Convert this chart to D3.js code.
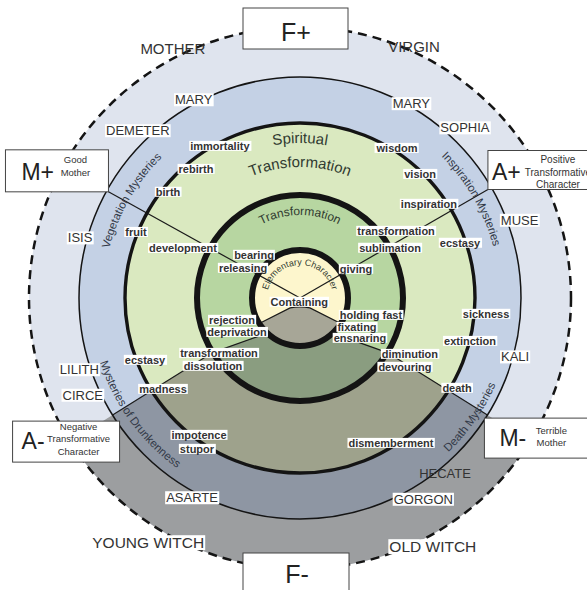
<!DOCTYPE html>
<html>
<head>
<meta charset="utf-8">
<script src="https://cdn.jsdelivr.net/npm/d3@7"></script>
<style>
  body { margin: 0; background: #fff; }
  svg { display: block; }
  text { font-family: "Liberation Sans", Arial, sans-serif; }
</style>
</head>
<body>
<svg width="587" height="590"></svg>
<script>

// rings, from the centre out, and their edges (radial units)
var rings = ["Elementary Character", "Transformation", "Spiritual Transformation", "Mysteries", "Archetypes"];
var ringEdges = [0, 48, 103, 175, 221, 271];

// the four axes (degrees clockwise from 3 o'clock)
var axes = ["M+", "A+", "A-", "M-"];
var axisAngles = [209, 330, 148, 32];

// ring titles
var titles = [["Elementary Character", 33], ["Transformation", 83], ["Spiritual", 155], ["Transformation", 131]];

// mysteries along the blue ring: text, angle, radius, direction
var mysteries = [
  ["Vegetation Mysteries", 210, 197, 1],
  ["Inspiration Mysteries", 330, 200, 1],
  ["Mysteries of Drunkenness", 144, 210, -1],
  ["Death Mysteries", 35, 214, -1]
];

// archetype names: text, angle, radius
var parents = [["MOTHER", 243, 280], ["VIRGIN", 294.4, 276]];
var goddesses = [
  ["MARY", 241.8, 225], ["MARY", 299.8, 224], ["DEMETER", 225.9, 233], ["SOPHIA", 314.1, 237],
  ["ISIS", 195.3, 228], ["MUSE", 340.5, 233], ["LILITH", 162, 232], ["CIRCE", 155.9, 238],
  ["KALI", 15.3, 223], ["ASARTE", 118.4, 227], ["HECATE", 50.5, 228], ["GORGON", 58.5, 236]
];
var witches = [["YOUNG WITCH", 121.8, 288], ["OLD WITCH", 61.9, 282]];

// functions inside the rings: text, angle, radius
var functions = [
  ["immortality", 242.2, 171.8], ["rebirth", 231.1, 165.7], ["birth", 218.8, 169.3], ["fruit", 201.9, 176.8],
  ["development", 203.1, 127.2], ["wisdom", 302.9, 178.6], ["vision", 314.1, 172.6], ["inspiration", 323.9, 159.6],
  ["transformation", 325.1, 117.1], ["sublimation", 330.9, 103], ["ecstasy", 341, 169.2], ["giving", 332.6, 63.1],
  ["bearing", 223.1, 63], ["releasing", 207.8, 64.4], ["rejection", 162.1, 71.5], ["deprivation", 151.6, 71.6],
  ["transformation", 145.8, 97.9], ["dissolution", 142, 110.4], ["ecstasy", 158.2, 166.9], ["madness", 146.4, 164.5],
  ["impotence", 126.4, 170.2], ["stupor", 124.3, 182.8], ["holding fast", 13.5, 73], ["fixating", 27, 64],
  ["ensnaring", 33.7, 72.1], ["diminution", 27, 123.4], ["devouring", 33.3, 125.6], ["death", 29.8, 181],
  ["dismemberment", 57.9, 171.2], ["sickness", 4.9, 186.7], ["extinction", 14.2, 175.4], ["Containing", 100, 4]
];

// corner boxes
var boxNames = ["F+", "F-", "M+", "A+", "A-", "M-"];
var boxNotes = [[], [], ["Good", "Mother"], ["Positive", "Transformative", "Character"],
                ["Negative", "Transformative", "Character"], ["Terrible", "Mother"]];


var svg = d3.select("svg");
var cx = 300, cy = 298;
var r = d3.scaleLinear().domain([0, 271]).range([0, 271]);
var ang = d3.scaleLinear().domain([0, 360]).range([0, 2 * Math.PI]);
var light = d3.scaleOrdinal().domain(rings).range(["#fdf6cd", "#b7d6a1", "#dae9c0", "#c4d1e5", "#dfe4ee"]);
var dark = d3.scaleOrdinal().domain(rings).range(["#a7a697", "#8a9d80", "#9ea28c", "#8e96a3", "#9c9ea0"]);

function pt(a, rr) {
  return [cx + r(rr) * Math.cos(ang(a)), cy + r(rr) * Math.sin(ang(a))];
}

var lowA = axisAngles[3], lowB = axisAngles[2];

// lower (negative) part of each ring
function darkPath(i) {
  var p = d3.path(), s;
  if (i === 0) {
    var a = pt(lowB, ringEdges[1]), b = pt(135, 14), c = pt(90, 8), e = pt(45, 14), f = pt(lowA, ringEdges[1]);
    p.moveTo(a[0], a[1]);
    p.lineTo(b[0], b[1]);
    p.quadraticCurveTo(c[0], c[1], e[0], e[1]);
    p.lineTo(f[0], f[1]);
    p.arc(cx, cy, r(ringEdges[1]), ang(lowA), ang(lowB), false);
  } else if (i === 1) {
    s = pt(lowA, ringEdges[2]);
    p.moveTo(s[0], s[1]);
    p.arc(cx, cy, r(ringEdges[2]), ang(lowA), ang(lowB), false);
    s = pt(133, ringEdges[1]);
    p.lineTo(s[0], s[1]);
    p.arc(cx, cy, r(ringEdges[1]), ang(133), ang(47), true);
  } else {
    s = pt(lowA, ringEdges[i + 1]);
    p.moveTo(s[0], s[1]);
    p.arc(cx, cy, r(ringEdges[i + 1]), ang(lowA), ang(lowB), false);
    s = pt(lowB, ringEdges[i]);
    p.lineTo(s[0], s[1]);
    p.arc(cx, cy, r(ringEdges[i]), ang(lowB), ang(lowA), true);
  }
  p.closePath();
  return p.toString();
}

var arc = d3.arc();

svg.append("g").selectAll("path").data(rings).enter().append("path")
  .attr("transform", "translate(" + cx + "," + cy + ")")
  .attr("d", function(d, i) {
    return arc({innerRadius: r(ringEdges[i]), outerRadius: r(ringEdges[i + 1]), startAngle: 0, endAngle: 2 * Math.PI});
  })
  .attr("fill", function(d) { return light(d); });

svg.append("g").selectAll("path").data(rings).enter().append("path")
  .attr("d", function(d, i) { return darkPath(i); })
  .attr("fill", function(d) { return dark(d); })
  .attr("stroke", function(d, i) { return i === 0 ? "#1a1a1a" : "none"; })
  .attr("stroke-width", 1.2);

// dividing lines
var segs = [
  [pt(axisAngles[0], 0), pt(axisAngles[0], 219)],
  [pt(axisAngles[1], 0), pt(axisAngles[1], 217)],
  [pt(lowB, ringEdges[2]), pt(lowB, ringEdges[4])],
  [pt(lowA, ringEdges[2]), pt(lowA, ringEdges[4])],
  [pt(133, ringEdges[1]), pt(lowB, ringEdges[2])],
  [pt(47, ringEdges[1]), pt(lowA, ringEdges[2])]
];
svg.append("g").selectAll("line").data(segs).enter().append("line")
  .attr("x1", function(d) { return d[0][0]; }).attr("y1", function(d) { return d[0][1]; })
  .attr("x2", function(d) { return d[1][0]; }).attr("y2", function(d) { return d[1][1]; })
  .attr("stroke", "#1a1a1a").attr("stroke-width", 1.2);

// ring borders
var widths = [6, 6, 3.4, 1.5, 2.5];
svg.append("g").selectAll("circle").data(ringEdges.slice(1)).enter().append("circle")
  .attr("cx", cx).attr("cy", cy)
  .attr("r", function(d) { return r(d); })
  .attr("fill", "none")
  .attr("stroke", "#141414")
  .attr("stroke-width", function(d, i) { return widths[i]; })
  .attr("stroke-dasharray", function(d, i) { return i === 4 ? "9,6" : null; });

// curved text
var defs = svg.append("defs");
function curved(id, txt, rr, a0, a1, ccw, size, color) {
  var p = d3.path();
  p.arc(cx, cy, r(rr), ang(a0), ang(a1), ccw);
  defs.append("path").attr("id", id).attr("d", p.toString());
  svg.append("text")
    .attr("font-size", size).attr("fill", color)
    .append("textPath").attr("href", "#" + id)
    .attr("startOffset", "50%").attr("text-anchor", "middle")
    .text(txt);
}

titles.forEach(function(t, i) {
  var size = i === 0 ? 9 : (i === 1 ? 12 : 15);
  curved("title" + i, t[0], t[1], 180, 360, false, size, "#303a30");
});

mysteries.forEach(function(m, i) {
  curved("myst" + i, m[0], m[2], m[1] - 70 * m[3], m[1] + 70 * m[3], m[3] < 0, 11.5, "#333a48");
});

// labels with white backing
function labels(data, size, weight, backed) {
  var gg = svg.append("g");
  var t = gg.selectAll("text").data(data).enter().append("text")
    .attr("x", function(d) { return pt(d[1], d[2])[0]; })
    .attr("y", function(d) { return pt(d[1], d[2])[1]; })
    .attr("dy", "0.35em")
    .attr("text-anchor", "middle")
    .attr("font-size", size)
    .attr("font-weight", weight)
    .attr("fill", "#333")
    .text(function(d) { return d[0]; });
  t.each(function(d) {
    if (!backed(d)) return;
    var b = this.getBBox();
    gg.insert("rect", "text")
      .attr("x", b.x - 1).attr("y", b.y + 1)
      .attr("width", b.width + 2).attr("height", b.height - 2)
      .attr("fill", "#fff");
  });
}

labels(parents, 15, "normal", function() { return false; });
labels(goddesses, 13, "normal", function(d) { return d[0] !== "HECATE"; });
labels(witches, 15.5, "normal", function() { return true; });
labels(functions, 11, "bold", function() { return true; });

// boxes, hung on the ends of the axes
var m0 = pt(axisAngles[0], 219), a0 = pt(axisAngles[1], 217), a1 = pt(lowB, 221), m1 = pt(lowA, 221);
var fTop = pt(270, 271), fBot = pt(90, 271);
var boxLayout = [
  {x: fTop[0] - 57, y: 8, w: 105, h: 41, big: 53, base: 33, size: 25, anchor: "middle"},
  {x: fBot[0] - 57, y: 553, w: 106, h: 40, big: 54, base: 30, size: 25, anchor: "middle"},
  {x: m0[0] - 103, y: m0[1] - 42, w: 103, h: 42, big: 16, base: 30, size: 23, anchor: "start", nx: 70, ny: [13, 26], ns: 9.5},
  {x: a0[0], y: a0[1] - 39, w: 110, h: 39, big: 4, base: 29, size: 23, anchor: "start", nx: 70, ny: [12, 25, 37], ns: 10},
  {x: a1[0] - 100, y: a1[1] + 6, w: 107, h: 41, big: 9, base: 28, size: 23, anchor: "start", nx: 66, ny: [9, 21, 34], ns: 9.5},
  {x: m1[0] - 3, y: m1[1] + 3, w: 110, h: 40, big: 15, base: 28, size: 23, anchor: "start", nx: 67, ny: [16, 28], ns: 9.5}
];

var box = svg.append("g").selectAll("g").data(boxNames).enter().append("g")
  .attr("transform", function(d, i) { return "translate(" + boxLayout[i].x + "," + boxLayout[i].y + ")"; });

box.append("rect")
  .attr("width", function(d, i) { return boxLayout[i].w; })
  .attr("height", function(d, i) { return boxLayout[i].h; })
  .attr("fill", "#fff").attr("stroke", "#444").attr("stroke-width", 1);

box.append("text")
  .attr("x", function(d, i) { return boxLayout[i].big; })
  .attr("y", function(d, i) { return boxLayout[i].base; })
  .attr("text-anchor", function(d, i) { return boxLayout[i].anchor; })
  .attr("font-size", function(d, i) { return boxLayout[i].size; })
  .attr("fill", "#222")
  .text(function(d) { return d; });

box.each(function(d, i) {
  var L = boxLayout[i];
  d3.select(this).selectAll("text.note").data(boxNotes[i]).enter().append("text")
    .attr("class", "note")
    .attr("x", L.nx)
    .attr("y", function(n, j) { return L.ny[j]; })
    .attr("text-anchor", "middle")
    .attr("font-size", L.ns)
    .attr("fill", "#333")
    .text(function(n) { return n; });
});

</script>
</body>
</html>
